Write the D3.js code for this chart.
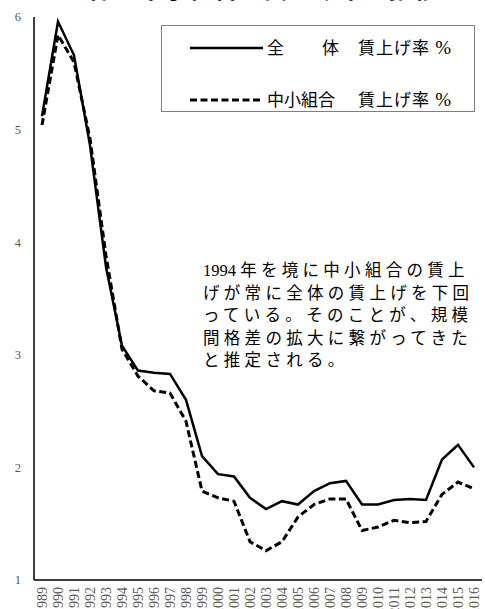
<!DOCTYPE html>
<html>
<head>
<meta charset="utf-8">
<script src="https://cdn.jsdelivr.net/npm/d3@7"></script>
<style>
  html, body { margin: 0; padding: 0; background: #fff; overflow: hidden; }
  svg { display: block; }
</style>
</head>
<body>
<svg id="chart" width="485" height="609"></svg>
<script>
// 春季賃上げ率の推移（全体・中小組合）
const years = ["1989","1990","1991","1992","1993","1994","1995","1996","1997","1998",
               "1999","2000","2001","2002","2003","2004","2005","2006","2007","2008",
               "2009","2010","2011","2012","2013","2014","2015","2016"];
const allRate = [5.12, 5.96, 5.66, 4.86, 3.78, 3.08, 2.86, 2.84, 2.83, 2.60,
                 2.10, 1.94, 1.92, 1.73, 1.63, 1.70, 1.67, 1.79, 1.86, 1.88,
                 1.67, 1.67, 1.71, 1.72, 1.71, 2.07, 2.20, 2.00];
const smallRate = [5.04, 5.84, 5.60, 4.92, 3.88, 3.05, 2.81, 2.68, 2.66, 2.41,
                   1.79, 1.73, 1.70, 1.34, 1.26, 1.34, 1.56, 1.67, 1.72, 1.72,
                   1.44, 1.47, 1.53, 1.51, 1.52, 1.76, 1.87, 1.81];
const yTicks = [1, 2, 3, 4, 5, 6];
const legendLabels = [["全", "体", "賃上げ率 %"], ["中小組合", "", "賃上げ率 %"]];
const noteLines = [
  ["1994 ", "年を境に中小組合の賃上"],
  ["", "げが常に全体の賃上げを下回"],
  ["", "っている。そのことが、規模"],
  ["", "間格差の拡大に繋がってきた"],
  ["", "と推定される。"]
];
const titleText = "【全体と中小組合の賃上げ率の推移】";

const serif = "'Liberation Serif', 'Noto Sans CJK JP', serif";
const svg = d3.select("#chart");

const x = d3.scaleBand().domain(years).range([34, 482]);
const y = d3.scaleLinear().domain([1, 6]).range([580, 17]);
const cx = d => x(d) + x.bandwidth() / 2;

// title (runs off the top edge)
svg.append("text")
  .attr("x", 251).attr("y", -2)
  .attr("text-anchor", "middle")
  .style("font-family", serif)
  .style("font-size", "25px")
  .style("font-weight", "bold")
  .attr("fill", "#000")
  .text(titleText);

// y axis: labels + left line
svg.append("g").selectAll("text").data(yTicks).join("text")
  .attr("x", 21).attr("y", d => y(d))
  .attr("dy", "0.35em")
  .attr("text-anchor", "end")
  .style("font-family", serif)
  .style("font-size", "12.5px")
  .attr("fill", "#595959")
  .text(d => d);

svg.append("line")
  .attr("x1", 34).attr("x2", 34)
  .attr("y1", y(6)).attr("y2", y(1))
  .attr("stroke", "#000").attr("stroke-width", 1.5);

// x axis: baseline + rotated year labels
svg.append("line")
  .attr("x1", 34).attr("x2", 482)
  .attr("y1", y(1)).attr("y2", y(1))
  .attr("stroke", "#000").attr("stroke-width", 1.5);

svg.append("g").selectAll("text").data(years).join("text")
  .attr("transform", d => `translate(${cx(d)},587) rotate(-90)`)
  .attr("dy", "0.35em")
  .attr("text-anchor", "end")
  .style("font-family", serif)
  .style("font-size", "14px")
  .attr("fill", "#595959")
  .text(d => d);

// series lines
const line = d3.line().x((d, i) => cx(years[i])).y(d => y(d));

svg.append("path")
  .datum(smallRate)
  .attr("d", line)
  .attr("fill", "none")
  .attr("stroke", "#000")
  .attr("stroke-width", 3)
  .attr("stroke-dasharray", "7,3.5");

svg.append("path")
  .datum(allRate)
  .attr("d", line)
  .attr("fill", "none")
  .attr("stroke", "#000")
  .attr("stroke-width", 2.5)
  .attr("stroke-linejoin", "miter");

// legend
const lg = svg.append("g");
lg.append("rect")
  .attr("x", 161.5).attr("y", 25.5)
  .attr("width", 313).attr("height", 86)
  .attr("fill", "#fff")
  .attr("stroke", "#7f7f7f").attr("stroke-width", 1);

const legendRows = [
  { yy: 48, dash: null, w: 2.5 },
  { yy: 100, dash: "7,3.5", w: 3 }
];
legendRows.forEach((r, i) => {
  lg.append("line")
    .attr("x1", 190).attr("x2", 263)
    .attr("y1", r.yy).attr("y2", r.yy)
    .attr("stroke", "#000").attr("stroke-width", r.w)
    .attr("stroke-dasharray", r.dash);
  const [a, b, c] = legendLabels[i];
  const t = lg.append("g")
    .style("font-family", serif)
    .style("font-size", "17px")
    .attr("fill", "#000");
  t.append("text").attr("x", 267).attr("y", r.yy + 6).text(a);
  if (b) t.append("text").attr("x", 322).attr("y", r.yy + 6).text(b);
  const lbl = t.append("text").attr("x", 358).attr("y", r.yy + 6)
    .attr("letter-spacing", "1px");
  lbl.append("tspan").text(c.slice(0, -1));
  lbl.append("tspan").style("font-size", "19px").text(c.slice(-1));
});

// annotation
const note = svg.append("g")
  .style("font-family", serif)
  .style("font-size", "16.5px")
  .attr("fill", "#000");
noteLines.forEach((ln, i) => {
  const t = note.append("text").attr("x", 203).attr("y", 276 + i * 22.5);
  if (ln[0]) t.append("tspan").text(ln[0]);
  t.append("tspan").attr("letter-spacing", "4.3px").text(ln[1]);
});
</script>
</body>
</html>
